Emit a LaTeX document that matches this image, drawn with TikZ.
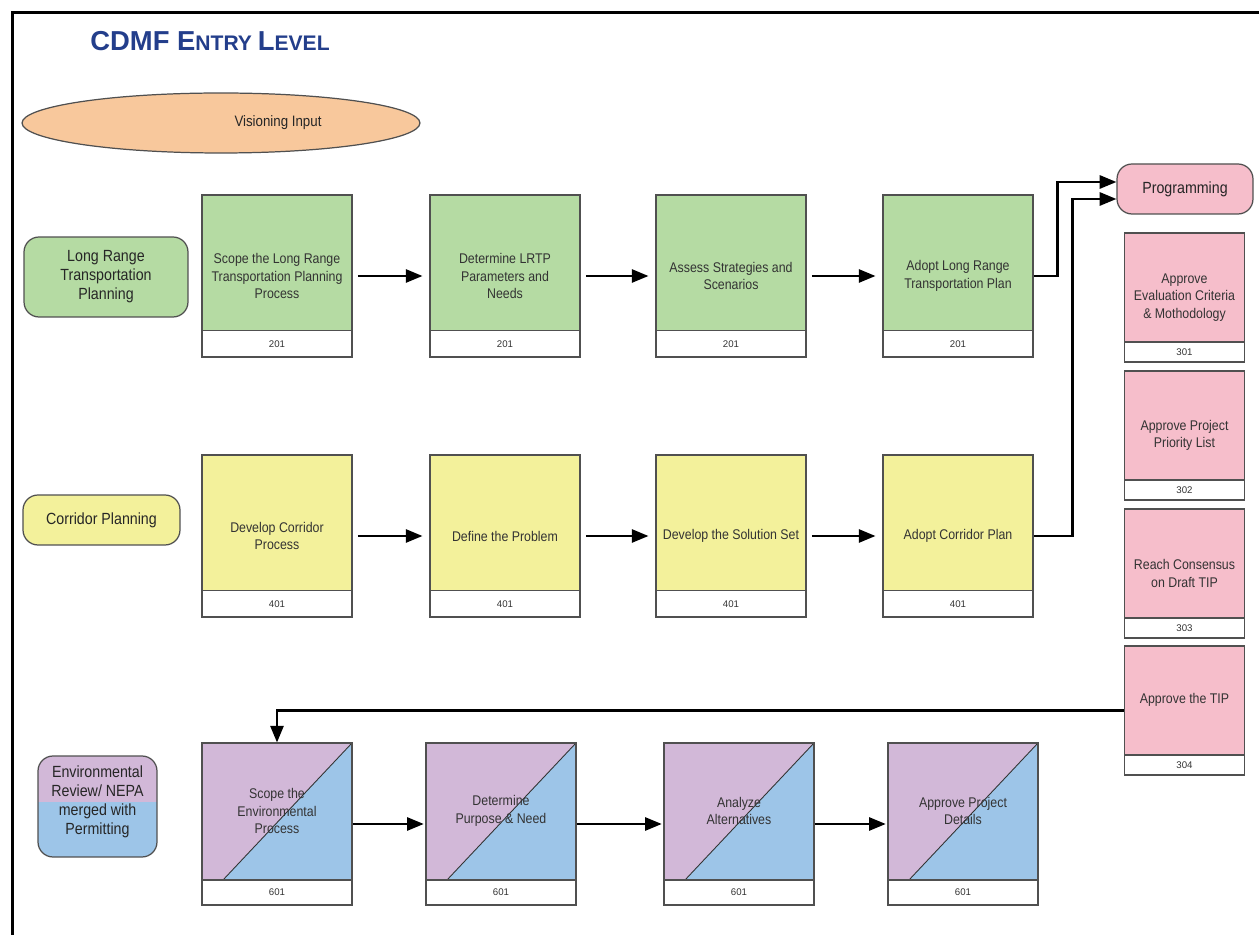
\documentclass[tikz,border=0pt]{standalone}
\usepackage{fontspec}
\setmainfont{Liberation Sans}
\newfontfamily\narrowsans{Liberation Sans}[FakeStretch=0.88]
\usetikzlibrary{shapes.geometric,arrows.meta,positioning}

\definecolor{lrtpgreen}{HTML}{B5DBA3}
\definecolor{corryellow}{HTML}{F3F19B}
\definecolor{progpink}{HTML}{F6BECB}
\definecolor{nepapurple}{HTML}{D2B8D8}
\definecolor{permitblue}{HTML}{9DC5E8}
\definecolor{visionpeach}{HTML}{F8C89C}
\definecolor{titleblue}{HTML}{233E8B}
\definecolor{boxgray}{HTML}{505050}

\tikzset{
  procbox/.style={draw=boxgray, line width=0.6pt, minimum width=3cm, minimum height=3.24cm,
    align=center, text=black!80, font=\narrowsans\fontsize{8}{10}\selectfont},
  proctext/.style={align=center, text=black!80, font=\narrowsans\fontsize{8}{10}\selectfont},
  numstrip/.style={draw=boxgray, line width=0.6pt, fill=white, anchor=south, minimum width=3cm,
    minimum height=0.53cm, inner sep=0pt, text=black!80, font=\fontsize{5.5}{6}\selectfont},
  pinkbox/.style={procbox, fill=progpink, minimum width=2.4cm, minimum height=2.58cm},
  pinkstrip/.style={numstrip, minimum width=2.4cm, minimum height=0.4cm},
  envbox/.style={procbox, path picture={
      \fill[nepapurple] (path picture bounding box.north west) -- (path picture bounding box.north east)
        -- ([shift={(0.42cm,0.5cm)}]path picture bounding box.south west)
        -- ([yshift=0.5cm]path picture bounding box.south west) -- cycle;
      \fill[permitblue] (path picture bounding box.north east)
        -- ([yshift=0.5cm]path picture bounding box.south east)
        -- ([shift={(0.42cm,0.5cm)}]path picture bounding box.south west) -- cycle;
      \draw[black!80, line width=0.5pt] ([shift={(0.42cm,0.5cm)}]path picture bounding box.south west)
        -- (path picture bounding box.north east);}},
  lanebox/.style={draw=boxgray, line width=0.7pt, rounded corners=0.3cm, align=center,
    text=black!85, font=\narrowsans\fontsize{9.2}{10.8}\selectfont},
  lanetext/.style={align=center, text=black!85, font=\narrowsans\fontsize{9.2}{10.8}\selectfont},
  flow/.style={line width=1.3pt, -{Triangle[length=9.5pt,width=7.5pt]}},
}

\begin{document}
\begin{tikzpicture}[x=0.02cm, y=-0.02cm]
  \useasboundingbox (0,0) rectangle (1259,935);
  %% frame
  \draw[line width=1.8pt] (12.5,935) -- (12.5,12.5) -- (1259,12.5);

  %% title and vision
  \node[anchor=west, text=titleblue, font=\bfseries, inner sep=0pt] (title) at (90,41)
    {\fontsize{15.6}{17}\selectfont CDMF E\fontsize{12}{17}\selectfont NTRY
     \fontsize{15.6}{17}\selectfont L\fontsize{12}{17}\selectfont EVEL};
  \node[ellipse, draw=boxgray, line width=0.7pt, fill=visionpeach, minimum width=7.96cm,
    minimum height=1.2cm] (vision) at (221,123) {};
  \node[lanetext, font=\narrowsans\fontsize{8.6}{10}\selectfont] (visiontxt) at (278,123) {Visioning Input};

  %% lane labels
  \node[lanebox, fill=lrtpgreen, minimum width=3.28cm, minimum height=1.6cm] (lrtp) at (106,277)
    {Long Range\\Transportation\\Planning};
  \node[lanebox, fill=corryellow, minimum width=3.14cm, minimum height=1cm] (corr) at (101.5,520)
    {Corridor Planning};
  \node[lanebox, fill=permitblue, minimum width=2.38cm, minimum height=2.02cm,
    path picture={\fill[nepapurple, sharp corners] (path picture bounding box.north west)
      rectangle ([yshift=0.09cm]path picture bounding box.east);}] (envlane) at (97.5,806.5) {};
  \node[lanetext] (envlanetop) at (97.5,781) {Environmental\\Review/ NEPA};
  \node[lanetext] (envlanebot) at (97.5,821) {merged with\\Permitting};

  %% long range transportation planning row
  \node[procbox, fill=lrtpgreen] (g1) at (277,276) {Scope the Long Range\\Transportation Planning\\Process};
  \node[procbox, fill=lrtpgreen] (g2) at (505,276) {Determine LRTP\\Parameters and\\Needs};
  \node[procbox, fill=lrtpgreen] (g3) at (731,276) {Assess Strategies and\\Scenarios};
  \node[procbox, fill=lrtpgreen] (g4) at (958,276) {Adopt Long Range\\Transportation Plan};
  \foreach \b in {g1,g2,g3,g4}
    \node[numstrip] (\b n) at (\b.south) {201};

  %% corridor planning row
  \node[procbox, fill=corryellow] (y1) at (277,536) {Develop Corridor\\Process};
  \node[procbox, fill=corryellow] (y2) at (505,536) {Define the Problem};
  \node[procbox, fill=corryellow] (y3) at (731,536) {Develop the Solution Set};
  \node[procbox, fill=corryellow] (y4) at (958,536) {Adopt Corridor Plan};
  \foreach \b in {y1,y2,y3,y4}
    \node[numstrip] (\b n) at (\b.south) {401};

  %% environmental review row
  \foreach \b/\x in {e1/277,e2/501,e3/739,e4/963}{
    \node[envbox] (\b) at (\x,824) {};
    \node[numstrip, minimum height=0.5cm] (\b n) at (\b.south) {601};
  }
  \node[proctext] (e1t) at ([yshift=0.26cm]e1.center) {Scope the\\Environmental\\Process};
  \node[proctext] (e2t) at ([yshift=0.26cm]e2.center) {Determine\\Purpose \& Need};
  \node[proctext] (e3t) at ([yshift=0.26cm]e3.center) {Analyze\\Alternatives};
  \node[proctext] (e4t) at ([yshift=0.26cm]e4.center) {Approve Project\\Details};

  %% programming column
  \node[lanebox, fill=progpink, minimum width=2.72cm, minimum height=1cm] (prog) at (1185,189) {Programming};
  \node[pinkbox] (t301) at (1184.5,297.5) {Approve\\Evaluation Criteria\\\& Mothodology};
  \node[pinkbox] (t302) at (1184.5,435.5) {Approve Project\\Priority List};
  \node[pinkbox] (t303) at (1184.5,573.5) {Reach Consensus\\on Draft TIP};
  \node[pinkbox] (t304) at (1184.5,710.5) {};
  \node[proctext] (t304t) at ([yshift=0.22cm]t304.center) {Approve the TIP};
  \foreach \b/\n in {t301/301,t302/302,t303/303,t304/304}
    \node[pinkstrip] (\b n) at (\b.south) {\n};

  %% flows
  \foreach \a/\b in {g1/g2,g2/g3,g3/g4,y1/y2,y2/y3,y3/y4}
    \draw[flow, shorten <=3pt, shorten >=4pt] (\a) -- (\b);
  \foreach \a/\b in {e1/e2,e2/e3,e3/e4}
    \draw[flow, shorten >=1pt] (\a) -- (\b);
  \draw[flow] (g4.east) -- ++(24,0) |- ([yshift=0.14cm]prog.west);
  \draw[flow] (y4.east) -- ++(39,0) |- ([yshift=-0.2cm]prog.west);
  \draw[flow] (t304.west) -| (e1.north);
\end{tikzpicture}
\end{document}
